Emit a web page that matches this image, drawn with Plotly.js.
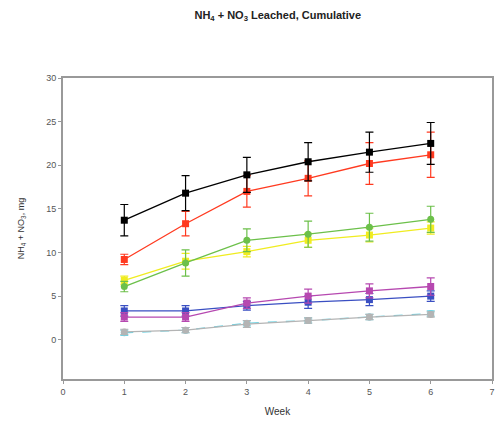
<!DOCTYPE html>
<html><head><meta charset="utf-8">
<script src="https://cdn.plot.ly/plotly-3.0.1.min.js"></script>
<style>body{margin:0}#c{width:496px;height:432px}</style>
</head><body><div id="c"></div>
<script>
var weeks = [1, 2, 3, 4, 5, 6];
var blackY = [13.7, 16.8, 18.9, 20.4, 21.5, 22.5];
var blackE = [1.8, 2.0, 2.0, 2.2, 2.3, 2.4];
var redY = [9.2, 13.3, 17.0, 18.5, 20.2, 21.2];
var redE = [0.6, 1.4, 1.8, 2.0, 2.4, 2.6];
var greenY = [6.1, 8.8, 11.4, 12.1, 12.9, 13.8];
var greenE = [0.6, 1.5, 1.3, 1.5, 1.6, 1.5];
var yellowY = [6.8, 9.0, 10.1, 11.4, 12.0, 12.8];
var yellowE = [0.5, 0.9, 0.6, 0.8, 0.8, 0.7];
var blueY = [3.3, 3.3, 3.9, 4.3, 4.6, 5.0];
var blueE = [0.6, 0.6, 0.5, 0.7, 0.7, 0.6];
var purpleY = [2.6, 2.6, 4.2, 5.0, 5.6, 6.1];
var purpleE = [0.5, 0.5, 0.6, 0.8, 0.8, 1.0];
var greyY = [0.9, 1.1, 1.8, 2.2, 2.6, 2.9];
var greyE = [0.3, 0.3, 0.4, 0.3, 0.3, 0.3];
var cyanY = [0.8, 1.1, 1.9, 2.2, 2.6, 3.0];
var cyanE = [0.3, 0.3, 0.3, 0.3, 0.3, 0.3];

function tr(y, e, color, sym, dash) {
  return {x: weeks, y: y, type: 'scatter', mode: 'lines+markers',
    line: {color: color, width: 1.3, dash: dash || 'solid'},
    marker: {color: color, size: 7, symbol: sym},
    error_y: {type: 'data', array: e, visible: true, color: color, thickness: 1.2, width: 4}};
}
var data = [
  tr(cyanY, cyanE, '#6fd3e3', 'circle', 'dash'),
  tr(greyY, greyE, '#b4b4b4', 'circle'),
  tr(blueY, blueE, '#3a4fc2', 'square'),
  tr(purpleY, purpleE, '#b648b0', 'square'),
  tr(yellowY, yellowE, '#f0ec20', 'square'),
  tr(greenY, greenE, '#6cc04a', 'circle'),
  tr(redY, redE, '#ff3a20', 'square'),
  tr(blackY, blackE, '#000000', 'square')
];
var layout = {
  width: 496, height: 432, showlegend: false,
  paper_bgcolor: '#fff', plot_bgcolor: '#fff',
  margin: {l: 63, r: 4, t: 78, b: 53},
  font: {family: 'Liberation Sans, Arial, sans-serif', color: '#333'},
  title: {text: '<b>NH<sub>4</sub> + NO<sub>3</sub> Leached, Cumulative</b>', x: 0.56, xanchor: 'center', y: 0.965, yanchor: 'middle', font: {size: 11, color: '#222'}},
  xaxis: {range: [0, 7], dtick: 1, showgrid: false, zeroline: false, showline: true, mirror: true,
    linecolor: '#999', linewidth: 2, ticks: 'outside', ticklen: 3, tickcolor: '#999',
    tickfont: {size: 9, color: '#555'},
    title: {text: 'Week', font: {size: 10, color: '#333'}, standoff: 12}},
  yaxis: {range: [-4.5, 30], tickvals: [0, 5, 10, 15, 20, 25, 30], showgrid: false, zeroline: false, showline: true, mirror: true,
    linecolor: '#999', linewidth: 2, ticks: 'outside', ticklen: 3, tickcolor: '#999',
    tickfont: {size: 9, color: '#555'},
    title: {text: 'NH<sub>4</sub> + NO<sub>3</sub>, mg', font: {size: 9, color: '#333'}, standoff: 20}}
};
Plotly.newPlot('c', data, layout, {displayModeBar: false});
</script></body></html>
